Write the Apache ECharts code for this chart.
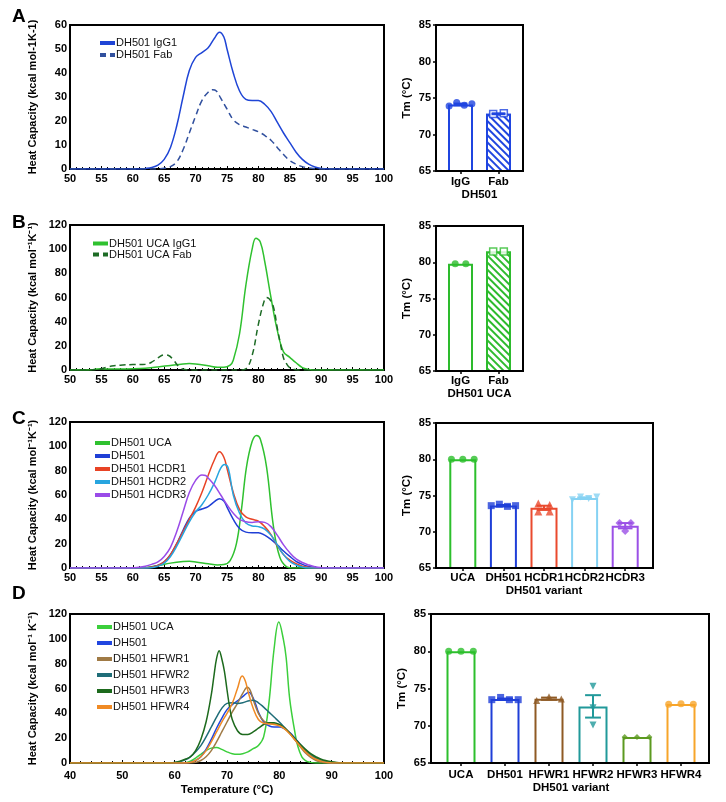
<!DOCTYPE html>
<html><head><meta charset="utf-8">
<script src="https://cdn.jsdelivr.net/npm/echarts@6/dist/echarts.min.js"></script>
<style>html,body{margin:0;padding:0;background:#fff}#c{width:726px;height:802px}</style>
</head><body><div id="c"></div>
<script>
// ================= DATA =================
// Panel A – DSC thermograms [temperature °C, heat capacity]
const aIgG1 = [[50,0],[55,0],[60,0],[61,0],[62,0.2],[63,0.6],[64,1.6],[65,4],[66,9],[67,18],[68,30],[69,41],[70,46.5],[71,48.5],[72,50.5],[73,54.5],[73.8,57],[74.5,55],[75,50],[76,40],[77,32.5],[78,29],[79,28.5],[80,28.5],[81,27],[82,24],[83,19.5],[84,15],[85,11],[86,7],[87,4],[88,2],[89,0.8],[90,0.2],[91,0],[95,0],[100,0]];
const aFab  = [[50,0],[55,0],[60,0],[63,0],[64,0.1],[65,0.3],[66,1],[67,3],[68,8],[69,15],[70,22],[71,28.5],[72,32],[72.7,33],[73.3,32.5],[74,29.5],[75,25],[76,20.5],[77,18.5],[78,17.5],[79,16.5],[80,15.5],[81,14],[82,12],[83,9],[84,6],[85,3.5],[86,2],[87,1],[88,0.4],[89,0.1],[90,0],[95,0],[100,0]];
// Panel B
const bIgG1 = [[50,0],[53,0],[54,0.6],[55,1],[56,0.8],[58,0.8],[60,1],[62,1.5],[64,2.5],[66,3.8],[68,5],[69,5.3],[70,5],[72,3.5],[73.5,2.2],[74.5,2.2],[75.5,4],[76,8],[77,30],[78,70],[79,100],[79.6,109],[80.3,106],[81,90],[82,60],[83,33],[84,15],[85,10.5],[86,6],[87,2],[88,0.5],[89,0],[95,0],[100,0]];
const bFab  = [[50,0],[53,0],[55,1],[56,2.5],[57,3.5],[58,4],[60,4.5],[62,4.8],[63,6.5],[64,10],[65,12.5],[65.7,12],[66.5,8],[67.5,2],[68.5,0.3],[70,0],[75,0],[77,0],[78,1],[79,12],[80,38],[80.8,55],[81.3,60],[82,57],[82.5,50],[83,35],[83.5,22],[84,10],[84.5,5],[85,2],[86,0.3],[87,0],[95,0],[100,0]];
// Panel C
const cUCA   = [[50,0],[55,0],[58,0],[61,0],[62,0.3],[64,2],[66,4],[68,5.3],[69,5.5],[70,5],[72,3.5],[73.5,2.5],[74.5,2.8],[75.5,6],[76.5,20],[77.3,48],[78.1,83],[79,104],[79.7,109],[80.3,106],[81.3,83],[82.4,34],[83.4,9],[84.5,1],[85.5,0],[90,0],[100,0]];
const cDH501 = [[50,0],[55,0],[60,0],[61,0],[62,0.2],[63,0.7],[64,2],[65,5],[66,11],[67,20],[68,31],[69,41],[70,46.5],[71,48.5],[72,50.5],[73,54.5],[73.8,57],[74.5,55],[75,50],[76,40],[77,32.5],[78,29.5],[79,29],[80,29],[81,27],[82,23.5],[83,19],[84,14],[85,9.5],[86,5.5],[87,3],[88,1.3],[89,0.4],[90,0],[95,0],[100,0]];
const cHCDR1 = [[50,0],[55,0],[60,0],[61,0],[62,0.2],[63,0.7],[64,2],[65,5],[66,11],[67,20],[68,30],[69,40],[70,50],[71,62],[72,76],[73,89],[73.8,95.5],[74.5,91],[75,82],[76,62],[77,48],[78,42],[79,40],[80,38.5],[81,34],[82,27.5],[83,18.5],[84,11],[85,6.5],[86,3.5],[87,1.5],[88,0.5],[89,0],[95,0],[100,0]];
const cHCDR2 = [[50,0],[55,0],[60,0],[62,0],[63,0.3],[64,1.5],[65,4],[66,9.5],[67,18],[68,28],[69,38],[70,46],[71,52],[72,60],[73,70],[74,82],[74.6,85],[75.2,82],[76,60],[77,45],[78,37],[79,34.5],[80,34],[81,32],[82,27],[83,19],[84,11],[85,5.5],[86,2.5],[87,0.8],[88,0],[95,0],[100,0]];
const cHCDR3 = [[50,0],[55,0],[59,0],[60,0.2],[61,0.6],[62,1.5],[63,3],[64,5],[65,9.5],[66,17],[67,30],[68,46],[69,62],[70,72],[71,76.5],[71.6,76],[72,74],[73,68],[74,60],[75,52],[76,45],[77,40],[78,38],[79,37.5],[80,38],[81,37.5],[82,34],[83,27],[84,19],[85,12.5],[86,7.5],[87,4.5],[88,2.5],[89,1],[90,0.3],[91,0],[95,0],[100,0]];
// Panel D
const dUCA   = [[40,0],[50,0],[55,0],[60,0],[62,0.3],[63,1.5],[64,4],[65,7],[66,10],[67,12],[68,12.5],[69,11],[70,9],[71,7.5],[72,7],[73,7.5],[74,9],[75,11.5],[76,14],[77,21],[78,48],[79,92],[79.9,113.5],[80.8,99],[81.3,85],[82,51],[83,24],[83.5,14],[84.3,5],[85,2],[86,0.5],[87,0],[95,0],[100,0]];
const dDH501 = [[40,0],[50,0],[55,0],[60,0],[62,0],[63,0.5],[64,2],[65,5],[66,11],[67,19],[68,28],[69,36],[70,43],[71,47],[72,50],[73,53.5],[74.2,57],[74.8,54],[75.5,47],[76,41],[77,33],[78,30],[79,29],[80,29],[81,27.5],[82,24.5],[83,20],[84,15],[85,10.5],[86,6.5],[87,3.5],[88,1.5],[89,0.5],[90,0],[95,0],[100,0]];
const dHFWR1 = [[40,0],[50,0],[55,0],[60,0],[63,0],[64,0.5],[65,2],[66,5],[67,10],[68,17],[69,25],[70,33],[71,41],[72,48],[73,56],[73.9,61],[74.5,58],[75,51],[76,40],[77,34],[78,32],[79,31.5],[80,31],[81,28.5],[82,24],[83,18.5],[84,13],[85,8],[86,4.5],[87,2],[88,0.7],[89,0],[95,0],[100,0]];
const dHFWR2 = [[40,0],[50,0],[55,0],[58,0],[59,0.2],[60,0.5],[61,1],[62,2.5],[63,5],[64,9],[65,14],[66,21],[67,29],[68,37],[69,44],[70,48],[71,48.5],[72,48],[73,48.5],[74,50],[75,50.5],[76,48.5],[77,45],[78,41],[79,37],[80,33],[81,28.5],[82,24],[83,19],[84,14],[85,10],[86,6.5],[87,4],[88,2.3],[89,1.2],[90,0.5],[91,0.2],[92,0],[100,0]];
const dHFWR3 = [[40,0],[50,0],[55,0],[58,0],[59,0.2],[60,0.5],[61,1.5],[62,3],[63,5],[64,10],[65,19],[66,33],[67,55],[67.5,70],[68,84],[68.5,90.5],[69,84],[69.5,74],[70,59],[70.5,45],[71,35],[72,26],[73,23],[74,23],[75,25],[76,28],[77,31],[78,32.5],[79,32.5],[80,31],[81,28],[82,24],[83,19.5],[84,15],[85,11],[86,7.5],[87,5],[88,3],[89,1.8],[90,1],[91,0.5],[92,0.2],[93,0],[100,0]];
const dHFWR4 = [[40,0],[50,0],[55,0],[60,0],[62,0],[63,0.5],[64,2],[65,5],[66,10],[67,17],[68,25],[69,33],[70,40],[71,48],[72,60],[72.9,70],[73.5,66],[74,58],[75,44],[76,35],[77,32],[78,31.5],[79,31],[80,30],[81,27.5],[82,23.5],[83,18.5],[84,13.5],[85,9],[86,5.5],[87,3],[88,1.5],[89,0.5],[90,0],[95,0],[100,0]];

// Tm replicate values (°C)
const aCats = ['IgG','Fab'];
const aTm = [[73.9,74.4,74.0,74.2],[72.8,72.9]];
const bCats = ['IgG','Fab'];
const bTm = [[79.8,79.8],[81.5,81.5]];
const cCats = ['UCA','DH501','HCDR1','HCDR2','HCDR3'];
const cTm = [[80.0,80.0,80.0],[73.6,73.8,73.5,73.6],[73.9,72.8,73.7,72.8],[74.4,74.8,74.6,74.8],[71.2,70.1,71.2]];
const dCats = ['UCA','DH501','HFWR1','HFWR2','HFWR3','HFWR4'];
const dTm = [[80.0,80.0,80.0],[73.5,73.8,73.5,73.5],[73.4,73.9,73.6],[75.3,70.1,72.4],[68.5,68.5,68.5],[72.9,72.95,72.9]];

// Axis tick ranges
const xTicksABC = {min:50, max:100, step:5};
const xTicksD = {min:40, max:100, step:10};
const tmRange = {min:65, max:85, step:5};

// ================= BUILD =================
const FONT = '"Liberation Sans", Arial, Helvetica, sans-serif';
const bold = {fontFamily:FONT, fontWeight:'bold', fontSize:11, color:'#000'};
const option = {animation:false, backgroundColor:'#fff', title:[], legend:[], grid:[], xAxis:[], yAxis:[], series:[]};
function addGrid(r, show, z){ option.grid.push({left:r[0], top:r[1], width:r[2], height:r[3], show:!!show, borderColor:'#000', borderWidth:2, backgroundColor:'transparent', containLabel:false, outerBoundsMode:'none', z:z||0}); return option.grid.length-1; }
function addX(o){ option.xAxis.push(o); return option.xAxis.length-1; }
function addY(o){ option.yAxis.push(o); return option.yAxis.length-1; }

function curvePanel(p){
  const g = addGrid(p.rect, true);
  const xi = addX({type:'value', gridIndex:g, min:p.xt.min, max:p.xt.max, interval:p.xt.step,
    axisLine:{show:false}, splitLine:{show:false},
    axisTick:{show:true, inside:true, length:3, lineStyle:{color:'#000', width:1}},
    minorTick:{show:true, splitNumber:p.minorSplit, length:2, lineStyle:{color:'#000', width:1}},
    axisLabel:Object.assign({margin:p.labelMargin}, bold),
    name:p.xName||'', nameLocation:'middle', nameGap:p.xNameGap||20, nameTextStyle:Object.assign({}, bold, {fontSize:11.5})});
  const yi = addY({type:'value', gridIndex:g, min:0, max:p.yMax, interval:p.yStep,
    axisLine:{show:false}, axisTick:{show:false}, splitLine:{show:false},
    axisLabel:Object.assign({margin:3}, bold),
    name:p.yName, nameLocation:'middle', nameRotate:90, nameGap:32, nameTextStyle:Object.assign({}, bold)});
  p.curves.forEach(c => option.series.push({type:'line', name:p.key+'|'+c.name, xAxisIndex:xi, yAxisIndex:yi,
    data:c.data, smooth:0.4, symbol:'none', z:3,
    lineStyle:{color:c.color, width:1.5, type:c.dash?[6,4]:'solid'}, itemStyle:{color:c.color}}));
  option.legend.push({data:p.curves.map(c=>p.key+'|'+c.name), formatter:n=>n.split('|')[1],
    orient:'vertical', left:p.legend.left, top:p.legend.top, itemWidth:15, itemHeight:p.legend.lh,
    itemGap:p.legend.gap, padding:0, selectedMode:false, lineStyle:{width:4}, itemStyle:{opacity:0, borderWidth:0},
    textStyle:{fontFamily:FONT, fontSize:11, color:'#111', lineHeight:p.legend.lh, padding:[0,0,0,-4]}});
}

function meanOf(a){ return a.reduce((s,v)=>s+v,0)/a.length; }
function semOf(a){ if(a.length<2) return 0; const m=meanOf(a); const v=a.reduce((s,x)=>s+(x-m)*(x-m),0)/(a.length-1); return Math.sqrt(v/a.length); }
function spread(vals){
  const groups=[];
  vals.forEach((v,k)=>{ let g=groups.find(g=>Math.abs(g.ref-v)<0.6); if(!g){g={ref:v,idx:[]};groups.push(g);} g.idx.push(k); });
  const off=new Array(vals.length);
  groups.forEach(g=>{ const n=g.idx.length; const step=n>1?Math.min(0.28,0.6/(n-1)):0; g.idx.forEach((k,j)=>{ off[k]=(j-(n-1)/2)*step; }); });
  return off;
}

function barPanel(p){
  const gF = addGrid(p.frame, true, 5);
  const gI = addGrid(p.inner, false);
  const n = p.cats.length;
  addX({type:'value', gridIndex:gF, show:false, min:0, max:1});
  addY({type:'value', gridIndex:gF, min:tmRange.min, max:tmRange.max, interval:tmRange.step,
    axisLine:{show:false}, splitLine:{show:false},
    axisTick:{show:true, length:3, lineStyle:{color:'#000', width:1.5}},
    axisLabel:Object.assign({margin:5}, bold),
    name:'Tm (°C)', nameLocation:'middle', nameRotate:90, nameGap:23, nameTextStyle:Object.assign({}, bold, {fontSize:11.5})});
  const xC = addX({type:'category', gridIndex:gI, data:p.cats,
    axisLine:{show:false}, axisTick:{show:true, alignWithLabel:true, length:3, lineStyle:{color:'#000', width:1.5}},
    axisLabel:Object.assign({margin:p.labelMargin, interval:0}, bold, {fontSize:11.5}),
    name:p.xName, nameLocation:'middle', nameGap:p.nameGap, nameTextStyle:Object.assign({}, bold, {fontSize:11.5})});
  const xV = addX({type:'value', gridIndex:gI, show:false, min:-0.5, max:n-0.5});
  const yI = addY({type:'value', gridIndex:gI, show:false, min:tmRange.min, max:tmRange.max});
  const means = p.reps.map(meanOf), sems = p.reps.map(semOf);
  option.series.push({type:'bar', xAxisIndex:xC, yAxisIndex:yI, barWidth:p.barWidth, z:2,
    data:means.map((m,i)=>{
      const it = {value:m, itemStyle:{color:'#fff', borderColor:p.colors[i], borderWidth:2}};
      if (p.hatch && p.hatch[i]) it.itemStyle.decal = {symbol:'rect', symbolSize:1, dashArrayX:[1,0], dashArrayY:[2,3], rotation:Math.PI/4, color:p.colors[i], backgroundColor:'#fff'};
      return it;
    })});
  p.reps.forEach((vals,i)=>{
    const offs = spread(vals);
    const pc = (p.pointColors||p.colors)[i];
    option.series.push({type:'scatter', xAxisIndex:xV, yAxisIndex:yI, z:4,
      symbol:p.symbols[i], symbolSize:p.sizes?p.sizes[i]:7,
      data:vals.map((v,k)=>[i+offs[k], v]),
      itemStyle:(p.hollow&&p.hollow[i]) ? {color:'#fff', borderColor:pc, borderWidth:1.5} : {color:pc}});
  });
  const eb = []; p.reps.forEach((v,i)=>{ if(v.length>1 && sems[i]>0.05) eb.push([i, means[i], sems[i], i]); });
  option.series.push({type:'custom', xAxisIndex:xC, yAxisIndex:yI, z:5, data:eb,
    renderItem:(params, api)=>{
      const i=api.value(0), m=api.value(1), s=api.value(2), col=p.colors[api.value(3)];
      const t=api.coord([i,m+s]), b=api.coord([i,m-s]); const hw=api.size([1,0])[0]*0.18;
      const st={stroke:col, lineWidth:2};
      return {type:'group', children:[
        {type:'line', shape:{x1:t[0],y1:t[1],x2:b[0],y2:b[1]}, style:st},
        {type:'line', shape:{x1:t[0]-hw,y1:t[1],x2:t[0]+hw,y2:t[1]}, style:st},
        {type:'line', shape:{x1:b[0]-hw,y1:b[1],x2:b[0]+hw,y2:b[1]}, style:st}]};
    }});
}

const downTri = 'path://M0,0L10,0L5,9Z';

// ---- A ----
curvePanel({key:'A', rect:[70,25,314,144], xt:xTicksABC, minorSplit:5, labelMargin:4, yMax:60, yStep:10,
  yName:'Heat Capacity (kcal mol-1K-1)',
  curves:[{name:'DH501 IgG1', data:aIgG1, color:'#1f45d6'},{name:'DH501 Fab', data:aFab, color:'#31509e', dash:true}],
  legend:{left:98, top:37, lh:12, gap:0}});
barPanel({frame:[436,25,87,146], inner:[441.5,25,76,146], cats:aCats, reps:aTm, colors:['#1f45e0','#1f45e0'],
  hatch:[false,true], symbols:['circle','rect'], hollow:[false,true], sizes:[7,7], barWidth:25,
  labelMargin:5, xName:'DH501', nameGap:16});
// ---- B ----
curvePanel({key:'B', rect:[70,225,314,145], xt:xTicksABC, minorSplit:5, labelMargin:4, yMax:120, yStep:20,
  yName:'Heat Capacity (kcal mol\u207B\u00B9K\u207B\u00B9)',
  curves:[{name:'DH501 UCA IgG1', data:bIgG1, color:'#2fc12f'},{name:'DH501 UCA Fab', data:bFab, color:'#1d6b25', dash:true}],
  legend:{left:91, top:238, lh:10, gap:0}});
barPanel({frame:[436,226,87,145], inner:[441.5,226,76,145], cats:bCats, reps:bTm, colors:['#2dbb2d','#2dbb2d'],
  hatch:[false,true], symbols:['circle','rect'], hollow:[false,true], sizes:[7,7], barWidth:25,
  labelMargin:4, xName:'DH501 UCA', nameGap:16});
// ---- C ----
curvePanel({key:'C', rect:[70,422,314,146], xt:xTicksABC, minorSplit:5, labelMargin:4, yMax:120, yStep:20,
  yName:'Heat Capacity (kcal mol\u207B\u00B9K\u207B\u00B9)',
  curves:[{name:'DH501 UCA', data:cUCA, color:'#2fc12f'},{name:'DH501', data:cDH501, color:'#1f3fd6'},
    {name:'DH501 HCDR1', data:cHCDR1, color:'#e84325'},{name:'DH501 HCDR2', data:cHCDR2, color:'#27a5df'},
    {name:'DH501 HCDR3', data:cHCDR3, color:'#9a4be8'}],
  legend:{left:93, top:437, lh:12, gap:1}});
barPanel({frame:[436,423,217,145], inner:[442.5,423,203,145], cats:cCats, reps:cTm,
  colors:['#2cbf2c','#1f3fd8','#ea4a2e','#86d2f3','#9b50e6'],
  symbols:['circle','rect',
    'triangle', downTri, 'diamond'], sizes:[7,7,8,7,8], barWidth:27,
  labelMargin:4, xName:'DH501 variant', nameGap:15});
// ---- D ----
curvePanel({key:'D', rect:[70,614,314,149], xt:xTicksD, minorSplit:5, labelMargin:7, yMax:120, yStep:20,
  yName:'Heat Capacity (kcal mol\u207B\u00B9 K\u207B\u00B9)', xName:'Temperature (°C)', xNameGap:21,
  curves:[{name:'DH501 UCA', data:dUCA, color:'#3ccf3c'},{name:'DH501', data:dDH501, color:'#2146e0'},
    {name:'DH501 HFWR1', data:dHFWR1, color:'#a07a45'},{name:'DH501 HFWR2', data:dHFWR2, color:'#1f6d78'},
    {name:'DH501 HFWR3', data:dHFWR3, color:'#1d6a1d'},{name:'DH501 HFWR4', data:dHFWR4, color:'#f08a24'}],
  legend:{left:95, top:621, lh:12, gap:4}});
barPanel({frame:[431,614,278,149], inner:[439,614,264,149], cats:dCats, reps:dTm,
  colors:['#2cbf2c','#1f3fd8','#8f5a24','#21999a','#5c9a20','#f7a52a'],
  symbols:['circle','rect','triangle',downTri,'diamond','circle'], sizes:[7,7,7,7,6,7], barWidth:29,
  labelMargin:6, xName:'DH501 variant', nameGap:17});

// Panel letters
[['A',7],['B',213],['C',409],['D',584]].forEach(([t,y])=>option.title.push({text:t, left:12, top:y, padding:0,
  textStyle:{fontFamily:FONT, fontWeight:'bold', fontSize:19, color:'#000'}}));

const chart = echarts.init(document.getElementById('c'), null, {renderer:'canvas'});
chart.setOption(option);
</script></body></html>
